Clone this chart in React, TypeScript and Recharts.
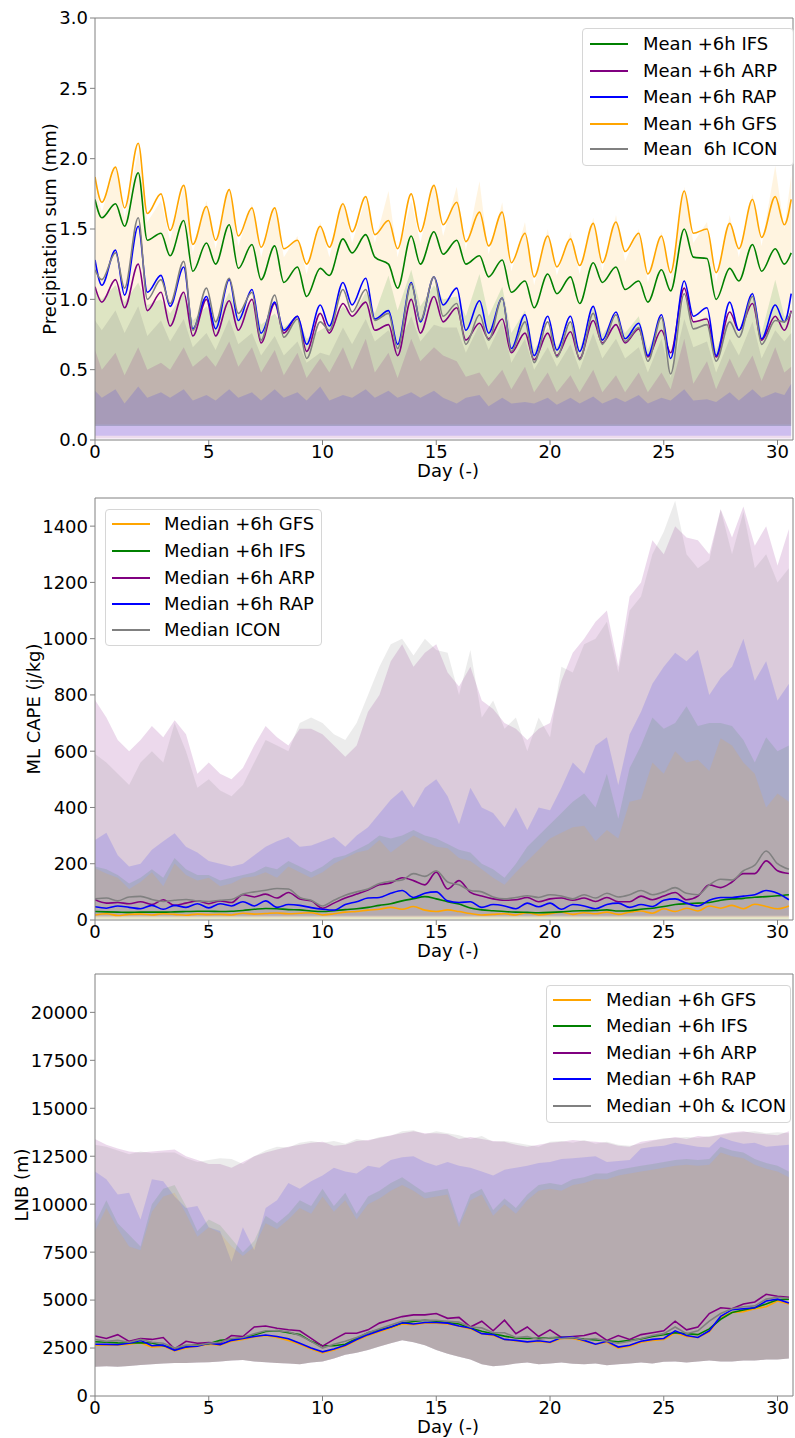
import { Area, ComposedChart, Line, ReferenceLine, XAxis, YAxis } from "recharts";

const AXIS_COLOR = "#808080";
const FONT = "'DejaVu Sans', Verdana, sans-serif";

const GFS = "#ffa500";
const IFS = "#008000";
const ARP = "#800080";
const RAP = "#0000ff";
const ICON = "#808080";

// ---------- panel 1: precipitation, sampled at daily troughs / peaks ----------
const precipDays = [
  0,
  0.3, 0.9, 1.3, 1.9, 2.3, 2.9, 3.3, 3.9, 4.3, 4.9,
  5.3, 5.9, 6.3, 6.9, 7.3, 7.9, 8.3, 8.9, 9.3, 9.9,
  10.3, 10.9, 11.3, 11.9, 12.3, 12.9, 13.3, 13.9, 14.3, 14.9,
  15.3, 15.9, 16.3, 16.9, 17.3, 17.9, 18.3, 18.9, 19.3, 19.9,
  20.3, 20.9, 21.3, 21.9, 22.3, 22.9, 23.3, 23.9, 24.3, 24.9,
  25.3, 25.9, 26.3, 26.9, 27.3, 27.9, 28.3, 28.9, 29.3, 29.9,
  30.3, 30.6,
];
const precipMeanGfs = [
  1.87,
  1.69, 1.94, 1.65, 2.11, 1.61, 1.75, 1.49, 1.81, 1.39, 1.66,
  1.42, 1.78, 1.45, 1.65, 1.37, 1.65, 1.36, 1.42, 1.25, 1.52,
  1.37, 1.68, 1.48, 1.73, 1.46, 1.56, 1.36, 1.75, 1.48, 1.81,
  1.53, 1.69, 1.41, 1.62, 1.38, 1.62, 1.26, 1.47, 1.16, 1.45,
  1.23, 1.43, 1.24, 1.54, 1.26, 1.55, 1.34, 1.47, 1.18, 1.45,
  1.19, 1.77, 1.47, 1.50, 1.19, 1.54, 1.36, 1.71, 1.44, 1.73,
  1.53, 1.71,
];
const precipMeanIfs = [
  1.71,
  1.58, 1.68, 1.52, 1.90, 1.42, 1.47, 1.31, 1.56, 1.20, 1.40,
  1.25, 1.53, 1.22, 1.39, 1.14, 1.38, 1.12, 1.23, 1.02, 1.22,
  1.17, 1.43, 1.33, 1.46, 1.30, 1.25, 1.08, 1.45, 1.25, 1.48,
  1.32, 1.42, 1.25, 1.31, 1.16, 1.28, 1.05, 1.13, 0.94, 1.18,
  1.04, 1.16, 0.97, 1.26, 1.12, 1.23, 1.07, 1.13, 0.98, 1.21,
  1.06, 1.50, 1.30, 1.29, 1.00, 1.22, 1.13, 1.39, 1.20, 1.36,
  1.25, 1.33,
];
const precipMeanArp = [
  1.09,
  0.98, 1.14, 0.94, 1.25, 0.92, 1.05, 0.81, 1.05, 0.74, 1.00,
  0.74, 0.99, 0.78, 1.00, 0.69, 0.97, 0.76, 0.88, 0.63, 0.90,
  0.76, 0.97, 0.88, 0.98, 0.78, 0.82, 0.60, 1.00, 0.76, 1.02,
  0.84, 0.94, 0.71, 0.83, 0.72, 0.86, 0.62, 0.76, 0.57, 0.76,
  0.60, 0.77, 0.58, 0.85, 0.69, 0.82, 0.69, 0.79, 0.59, 0.78,
  0.62, 1.08, 0.84, 0.86, 0.59, 0.91, 0.78, 0.97, 0.71, 0.88,
  0.78, 0.92,
];
const precipMeanRap = [
  1.28,
  1.10, 1.35, 1.03, 1.52, 1.05, 1.17, 0.95, 1.23, 0.79, 1.02,
  0.79, 1.14, 0.85, 1.07, 0.76, 0.98, 0.78, 0.88, 0.68, 0.96,
  0.81, 1.12, 0.96, 1.15, 0.86, 0.92, 0.68, 1.12, 0.84, 1.16,
  0.96, 1.08, 0.78, 0.99, 0.76, 1.01, 0.65, 0.89, 0.60, 0.88,
  0.64, 0.88, 0.63, 0.95, 0.71, 0.91, 0.72, 0.83, 0.60, 0.89,
  0.58, 1.13, 0.88, 0.94, 0.60, 0.98, 0.78, 1.04, 0.72, 0.96,
  0.84, 1.04,
];
const precipMeanIcon = [
  1.21,
  1.14, 1.33, 1.08, 1.58, 1.00, 1.14, 0.97, 1.27, 0.78, 1.08,
  0.84, 1.15, 0.90, 1.05, 0.71, 1.03, 0.73, 0.86, 0.58, 0.84,
  0.78, 1.07, 0.91, 1.07, 0.85, 0.90, 0.65, 1.11, 0.85, 1.16,
  0.88, 0.97, 0.68, 0.89, 0.71, 1.01, 0.63, 0.84, 0.55, 0.84,
  0.59, 0.84, 0.57, 0.90, 0.68, 0.89, 0.70, 0.80, 0.56, 0.87,
  0.47, 1.04, 0.79, 0.82, 0.56, 0.84, 0.73, 1.02, 0.68, 0.85,
  0.84, 0.91,
];
const precipHighGfs = [
  1.80,
  1.62, 1.95, 1.58, 2.05, 1.55, 1.70, 1.42, 1.80, 1.33, 1.70,
  1.36, 1.80, 1.38, 1.68, 1.30, 1.66, 1.30, 1.45, 1.18, 1.55,
  1.30, 1.70, 1.40, 1.72, 1.40, 1.77, 1.30, 1.70, 1.40, 1.82,
  1.45, 1.80, 1.35, 1.84, 1.32, 1.69, 1.20, 1.55, 1.10, 1.50,
  1.17, 1.48, 1.18, 1.58, 1.20, 1.60, 1.27, 1.50, 1.12, 1.48,
  1.13, 1.80, 1.40, 1.55, 1.12, 1.60, 1.30, 1.75, 1.38, 1.95,
  1.50, 1.88,
];
const precipHighIfs = [
  1.05,
  1.00, 1.10, 0.98, 1.12, 0.96, 1.00, 0.90, 1.05, 0.85, 0.95,
  0.85, 1.05, 0.88, 0.98, 0.82, 0.90, 0.80, 0.88, 0.72, 0.78,
  0.82, 0.95, 0.88, 1.05, 0.90, 1.17, 0.92, 1.21, 0.95, 1.10,
  1.00, 1.02, 0.88, 1.18, 0.88, 1.09, 0.76, 0.92, 0.64, 0.80,
  0.66, 0.83, 0.64, 0.95, 0.75, 0.88, 0.76, 0.88, 0.64, 0.86,
  0.58, 1.02, 0.83, 0.88, 0.64, 0.88, 0.76, 1.06, 0.76, 1.14,
  0.88, 0.88,
];
const precipHighIcon = [
  0.85,
  0.78, 0.92, 0.76, 0.95, 0.74, 0.85, 0.70, 0.86, 0.66, 0.76,
  0.64, 0.86, 0.68, 0.76, 0.60, 0.74, 0.60, 0.70, 0.55, 0.62,
  0.60, 0.80, 0.68, 0.86, 0.70, 0.78, 0.66, 0.88, 0.70, 0.82,
  0.80, 0.80, 0.62, 0.82, 0.64, 0.84, 0.55, 0.72, 0.50, 0.66,
  0.52, 0.68, 0.50, 0.76, 0.58, 0.72, 0.58, 0.66, 0.48, 0.72,
  0.44, 0.86, 0.66, 0.70, 0.48, 0.72, 0.60, 0.84, 0.58, 0.78,
  0.70, 0.76,
];
const precipHighArp = [
  0.64,
  0.50, 0.62, 0.46, 0.66, 0.50, 0.55, 0.50, 0.66, 0.52, 0.60,
  0.52, 0.70, 0.52, 0.66, 0.48, 0.64, 0.46, 0.62, 0.44, 0.58,
  0.48, 0.66, 0.50, 0.72, 0.48, 0.62, 0.44, 0.72, 0.56, 0.66,
  0.60, 0.56, 0.45, 0.48, 0.38, 0.50, 0.36, 0.52, 0.34, 0.48,
  0.34, 0.46, 0.34, 0.50, 0.34, 0.46, 0.34, 0.48, 0.34, 0.48,
  0.36, 0.72, 0.40, 0.56, 0.36, 0.58, 0.44, 0.60, 0.42, 0.66,
  0.48, 0.52,
];
const precipHighRap = [
  0.35,
  0.30, 0.36, 0.26, 0.38, 0.30, 0.34, 0.30, 0.36, 0.28, 0.32,
  0.28, 0.36, 0.30, 0.34, 0.28, 0.36, 0.30, 0.34, 0.28, 0.38,
  0.28, 0.32, 0.30, 0.36, 0.30, 0.35, 0.30, 0.34, 0.30, 0.35,
  0.30, 0.26, 0.30, 0.32, 0.24, 0.30, 0.26, 0.27, 0.26, 0.30,
  0.25, 0.30, 0.26, 0.31, 0.26, 0.30, 0.27, 0.32, 0.26, 0.30,
  0.28, 0.36, 0.28, 0.29, 0.27, 0.34, 0.28, 0.36, 0.30, 0.34,
  0.32, 0.40,
];
const precipLowGfs = 0.11;
const precipLowIfs = 0.1;
const precipLowIcon = 0.1;
const precipLowArp = 0.01;
const precipLowRap = 0.03;
const precipTicks = [0, 0.5, 1, 1.5, 2, 2.5, 3];

// ---------- panels 2 and 3: half-day samples ----------
const halfDays = [
  0, 0.5, 1, 1.5, 2, 2.5, 3, 3.5, 4, 4.5,
  5, 5.5, 6, 6.5, 7, 7.5, 8, 8.5, 9, 9.5,
  10, 10.5, 11, 11.5, 12, 12.5, 13, 13.5, 14, 14.5,
  15, 15.5, 16, 16.5, 17, 17.5, 18, 18.5, 19, 19.5,
  20, 20.5, 21, 21.5, 22, 22.5, 23, 23.5, 24, 24.5,
  25, 25.5, 26, 26.5, 27, 27.5, 28, 28.5, 29, 29.5,
  30, 30.5,
];

const capeMedGfs = [
  18, 22, 16, 20, 21, 18, 22, 20, 17, 21,
  19, 20, 18, 24, 21, 23, 25, 22, 24, 26,
  18, 22, 28, 30, 35, 38, 45, 38, 48, 35,
  30, 36, 30, 23, 18, 20, 22, 18, 26, 18,
  22, 28, 20, 26, 22, 28, 20, 28, 32, 24,
  40, 30, 42, 32, 50, 42, 52, 40, 56, 48,
  40, 50,
];
const capeMedIfs = [
  30, 29, 28, 27, 28, 28, 28, 29, 30, 31,
  31, 30, 31, 34, 38, 41, 40, 37, 36, 32,
  30, 33, 37, 40, 45, 52, 58, 68, 76, 83,
  75, 65, 57, 43, 36, 33, 30, 28, 27, 26,
  27, 29, 32, 33, 34, 36, 32, 33, 38, 42,
  48, 55, 58, 60, 62, 70, 75, 77, 81, 83,
  86, 90,
];
const capeMedArp = [
  72, 60, 62, 58, 65, 55, 72, 52, 60, 68,
  58, 68, 62, 90, 82, 92, 78, 98, 75, 68,
  42, 60, 78, 92, 107, 125, 132, 150, 140, 125,
  170, 110, 140, 98, 85, 75, 70, 72, 80, 65,
  75, 78, 70, 78, 66, 80, 65, 65, 85, 72,
  85, 98, 72, 85, 125, 115, 135, 165, 165, 210,
  175, 165,
];
const capeMedRap = [
  47, 42, 50, 45, 40, 52, 38, 52, 45, 58,
  43, 58, 50, 65, 50, 68, 45, 55, 52, 44,
  38, 35, 55, 65, 78, 80, 95, 105, 80, 95,
  100, 68, 62, 65, 45, 55, 50, 40, 60, 47,
  60, 38, 55, 50, 40, 55, 60, 45, 55, 48,
  70, 75, 60, 50, 70, 80, 80, 85, 90, 105,
  95, 72,
];
const capeMedIcon = [
  75, 78, 68, 82, 84, 73, 66, 70, 73, 68,
  66, 70, 73, 92, 100, 106, 112, 110, 80, 70,
  50, 70, 88, 100, 110, 130, 138, 142, 165, 155,
  175, 135, 125, 105, 100, 82, 75, 80, 86, 80,
  90, 85, 75, 90, 78, 95, 82, 90, 105, 90,
  100, 115, 95, 90, 125, 145, 142, 175, 195, 245,
  200, 180,
];
const capeHighArp = [
  782, 720, 640, 600, 640, 690, 650, 710, 660, 520,
  560, 520, 500, 540, 620, 690, 650, 620, 680, 680,
  660, 620, 580, 620, 740, 800, 920, 980, 900, 950,
  980, 880, 830, 900, 780, 750, 700, 680, 640, 680,
  700, 850, 950, 1000, 1060, 1100, 900, 1150, 1200, 1350,
  1300, 1400, 1360, 1350, 1300, 1460, 1360, 1470, 1330, 1400,
  1260, 1390,
];
const capeHighIcon = [
  590, 560, 520, 480, 560, 600, 560, 700, 600, 470,
  500, 460, 440, 480, 560, 640, 620, 600, 700, 720,
  700, 660, 640, 700, 800, 900, 980, 1000, 940, 1000,
  960, 950, 800, 960, 720, 780, 680, 720, 600, 720,
  650, 900, 880, 980, 1000, 1060, 880, 1100, 1150, 1300,
  1380, 1490, 1300, 1250, 1280, 1460, 1300, 1450, 1250, 1300,
  1200, 1250,
];
const capeHighRap = [
  284, 310, 230, 190, 200, 250, 280, 308, 260, 240,
  210, 200, 190, 200, 230, 260, 280, 295, 260, 265,
  280, 295, 260, 300, 330, 379, 427, 462, 400, 470,
  500, 440, 340, 470, 400, 380, 330, 400, 320, 400,
  390, 470, 560, 520, 620, 650, 480, 660, 740, 840,
  900, 950, 920, 960, 800, 860, 900, 1000, 850, 920,
  780, 840,
];
const capeHighIfs = [
  190, 180, 160, 130, 150, 180, 150, 220, 180, 160,
  160, 140, 150, 160, 170, 190, 180, 210, 190, 170,
  190, 220, 230, 250, 270, 300, 290, 300, 320, 300,
  290, 270, 250, 240, 200, 180, 150, 200, 260, 300,
  340, 380, 420, 450, 400, 520, 360, 540, 620, 720,
  680, 700, 760, 690, 700, 700, 690, 640, 560, 650,
  600, 620,
];
const capeHighGfs = [
  184, 165, 150, 110, 135, 170, 120, 201, 160, 140,
  150, 120, 130, 150, 155, 170, 150, 190, 170, 150,
  170, 200, 220, 240, 249, 284, 240, 270, 300, 280,
  260, 255, 220, 210, 180, 150, 125, 170, 210, 250,
  290, 310, 330, 335, 280, 320, 290, 420, 430, 560,
  520, 600, 560, 570, 530, 646, 620, 560, 520, 400,
  450, 420,
];
const capeLowArp = 10;
const capeLowIcon = 15;
const capeLowRap = 15;
const capeLowIfs = 3;
const capeLowGfs = 3;
const capeTicks = [0, 200, 400, 600, 800, 1000, 1200, 1400];

const lnbMedGfs = [
  2650, 2650, 2650, 2700, 2780, 2550, 2600, 2350, 2500, 2600,
  2700, 2650, 2850, 2950, 3080, 3150, 3050, 2900, 2700, 2450,
  2250, 2400, 2600, 2900, 3150, 3350, 3550, 3750, 3720, 3800,
  3800, 3750, 3650, 3500, 3250, 3150, 2950, 2870, 2800, 2850,
  2780, 3000, 3000, 2850, 2700, 2800, 2500, 2600, 2800, 2900,
  2950, 3300, 3100, 3050, 3350, 4100, 4350, 4400, 4550, 4650,
  4950, 4800,
];
const lnbMedIfs = [
  2830, 2800, 2770, 2760, 2780, 2760, 2620, 2500, 2560, 2680,
  2720, 2900, 2960, 3050, 3180, 3360, 3410, 3300, 3200, 2850,
  2620, 2620, 2700, 3000, 3300, 3450, 3600, 3800, 3880, 3950,
  3900, 3830, 3750, 3550, 3380, 3250, 3120, 3020, 3000, 3010,
  3030, 3060, 3040, 2970, 2920, 2880, 2820, 2900, 2980, 3100,
  3200, 3300, 3250, 3200, 3500, 4000, 4350, 4480, 4600, 4800,
  5020, 5050,
];
const lnbMedArp = [
  3130, 3000, 3200, 2850, 3000, 2950, 3050, 2450, 2850, 2750,
  2780, 2750, 3150, 3100, 3600, 3650, 3530, 3450, 3400, 3000,
  2600, 2950, 3270, 3270, 3450, 3800, 3970, 4140, 4230, 4230,
  4300, 4050, 4100, 3600, 3900, 3400, 3950, 3250, 3600, 3100,
  3450, 3050, 3100, 3150, 3300, 2900, 3150, 2950, 3200, 3300,
  3400, 3900, 3450, 3600, 4300, 4600, 4550, 4800, 4900, 5300,
  5200, 5150,
];
const lnbMedRap = [
  2700, 2690, 2670, 2750, 2900, 2620, 2650, 2380, 2560, 2600,
  2750, 2680, 2900, 3000, 3100, 3180, 3100, 2980, 2750, 2500,
  2300, 2450, 2650, 2950, 3200, 3400, 3600, 3820, 3750, 3830,
  3830, 3800, 3650, 3550, 3250, 3200, 2950, 2900, 2820, 2880,
  2800, 3050, 3070, 2900, 2700, 2850, 2550, 2650, 2850, 2950,
  3000, 3400, 3150, 3050, 3400, 4150, 4500, 4550, 4600, 4950,
  5050, 4850,
];
const lnbMedIcon = [
  2950, 2850, 2900, 2800, 2950, 2800, 2750, 2500, 2650, 2650,
  2750, 2800, 3000, 3050, 3250, 3400, 3400, 3350, 3150, 2850,
  2500, 2700, 2850, 3050, 3300, 3500, 3700, 3900, 3950, 3950,
  3950, 3900, 3850, 3600, 3550, 3300, 3300, 3050, 3100, 2950,
  3050, 3000, 3050, 2950, 3000, 2850, 2750, 2850, 3000, 3150,
  3250, 3600, 3250, 3400, 3900, 4300, 4550, 4650, 4700, 5050,
  5150, 5100,
];
const lnbHighArp = [
  13400, 13100, 12900, 12750, 12700, 12750, 12800, 12850, 12500, 12300,
  12100, 12100, 11900, 12200, 12500, 12700, 12850, 13000, 13100, 13200,
  13250, 13050, 13100, 13300, 13350, 13450, 13600, 13700, 13800, 13700,
  13700, 13650, 13400, 13500, 13400, 13300, 13250, 13100, 13000, 13100,
  13200, 13250, 13350, 13300, 13250, 13200, 13050, 13000, 13250, 13350,
  13400, 13500, 13400, 13550, 13500, 13650, 13750, 13800, 13700, 13650,
  13600, 13800,
];
const lnbHighIcon = [
  13100, 13000, 12800, 12600, 12750, 12650, 12700, 12700, 12400, 12200,
  12300, 12400, 12350, 12100, 12500, 12800, 13000, 12950, 13200, 13300,
  13200, 13300, 13150, 13400, 13300, 13500, 13550, 13800, 13850, 13650,
  13800, 13700, 13600, 13400, 13550, 13250, 13300, 13200, 13100, 13000,
  13250, 13300, 13200, 13350, 13150, 13250, 13100, 13050, 13150, 13300,
  13450, 13450, 13500, 13450, 13550, 13600, 13700, 13750, 13800, 13700,
  13750, 13700,
];
const lnbHighRap = [
  11700, 11300, 10500, 10600, 9200, 11300, 11200, 10400, 9800, 9900,
  8800, 8600, 7000, 8800, 7600, 9800, 10200, 11100, 10800, 11200,
  11500, 11900, 11700, 11600, 12000, 11900, 12300, 12450, 12500, 12200,
  12000, 12200, 12000, 11900, 11700, 11500, 11800, 11900, 12000, 12150,
  12200, 12350, 12400, 12450, 12500, 12200, 12250, 12300, 12900, 13000,
  13050, 13200, 13100, 13000, 12950, 13500, 13300, 13150, 13200, 13000,
  13050, 13100,
];
const lnbHighIfs = [
  9000, 10200, 9000, 8400, 7800, 10000, 10800, 11000, 9900, 8600,
  9200, 8900, 8200, 7500, 8100, 9400, 9000, 9500, 10200, 9900,
  10800, 9900, 10600, 9500, 10400, 10700, 11100, 11400, 11000, 10600,
  10700, 10800, 9000, 10500, 10800, 9700, 10300, 9800, 10500, 11000,
  11100, 11000, 11300, 11400, 11600, 11600, 11800, 11900, 12000, 12100,
  12200, 12300, 12350, 12300, 12350, 13000, 12800, 12700, 12350, 12150,
  12000, 11700,
];
const lnbHighGfs = [
  8600, 9800, 8700, 7800, 7600, 9600, 10400, 10600, 9500, 8300,
  8800, 8500, 7800, 7300, 7800, 9000, 8700, 9200, 9800, 9500,
  10400, 9600, 10200, 9200, 10000, 10300, 10700, 11000, 10700, 10300,
  10400, 10500, 8800, 10200, 10500, 9400, 10000, 9500, 10200, 10700,
  10800, 10700, 11000, 11100, 11300, 11300, 11500, 11600, 11700, 11800,
  11900, 12000, 12050, 12000, 12050, 12700, 12500, 12400, 12050, 11850,
  11700, 11400,
];
const lnbLow = [
  1530, 1550, 1530, 1560, 1620, 1650, 1700, 1720, 1720, 1750,
  1760, 1800, 1850, 1880, 1800, 1760, 1720, 1700, 1650, 1750,
  1800, 1950, 2150, 2250, 2400, 2580, 2750, 2900, 2800, 2650,
  2400, 2200, 2050, 1900, 1650, 1550, 1600, 1700, 1750, 1650,
  1700, 1750, 1680, 1650, 1700, 1600, 1650, 1700, 1750, 1700,
  1780, 1800, 1750, 1800, 1850, 1800, 1800, 1850, 1850, 1900,
  1900, 1950,
];
const lnbTicks = [0, 2500, 5000, 7500, 10000, 12500, 15000, 17500, 20000];

const dayTicks = [0, 5, 10, 15, 20, 25, 30];
const DAY_MAX = 30.68;

type Curve = "linear" | "monotone";

interface LineDef {
  key: string;
  label: string;
  color: string;
  values: number[];
}
interface BandDef {
  key: string;
  color: string;
  opacity: number;
  low: number | number[];
  high: number[];
}
interface LegendBox {
  left: number;
  top: number;
  width: number;
  height: number;
  rowY: number[];
  lineX: number;
  textX: number;
}
interface PanelProps {
  top: number;
  marginTop: number;
  days: number[];
  bands: BandDef[];
  lines: LineDef[];
  lineCurve: Curve;
  bandCurve: Curve;
  yMax: number;
  yTicks: number[];
  yFormat?: (v: number) => string;
  yLabel: string;
  yLabelX: number;
  legend: LegendBox;
}

const PLOT_H = 422;
const PLOT_LEFT = 95;
const PLOT_RIGHT = 793;
const WIDTH = 795;

function buildRows(days: number[], bands: BandDef[], lines: LineDef[]) {
  return days.map((day, i) => {
    const row: Record<string, number | number[]> = { day };
    bands.forEach((b) => {
      const lo = Array.isArray(b.low) ? b.low[i] : b.low;
      row[b.key] = [lo, b.high[i]];
    });
    lines.forEach((l) => {
      row[l.key] = l.values[i];
    });
    return row;
  });
}

function Panel(props: PanelProps) {
  const { top, marginTop, days, bands, lines, lineCurve, bandCurve, yMax, yTicks, yFormat, yLabel, yLabelX, legend } = props;
  const rows = buildRows(days, bands, lines);
  const height = marginTop + PLOT_H + 38;
  const plotBottom = top + marginTop + PLOT_H;
  return (
    <>
      <div style={{ position: "absolute", left: 0, top }}>
        <ComposedChart
          width={WIDTH}
          height={height}
          data={rows}
          margin={{ top: marginTop, right: WIDTH - PLOT_RIGHT, bottom: 8, left: 0 }}
        >
          <XAxis
            dataKey="day"
            type="number"
            domain={[0, DAY_MAX]}
            ticks={dayTicks}
            interval={0}
            height={30}
            allowDataOverflow
            tickSize={5}
            tickMargin={0}
            tick={{ fill: "#000", fontSize: 18, fontFamily: FONT }}
            axisLine={{ stroke: AXIS_COLOR }}
            tickLine={{ stroke: AXIS_COLOR }}
          />
          <YAxis
            type="number"
            domain={[0, yMax]}
            ticks={yTicks}
            interval={0}
            width={PLOT_LEFT}
            allowDataOverflow
            tickSize={5}
            tickFormatter={yFormat}
            tick={{ fill: "#000", fontSize: 18, fontFamily: FONT }}
            axisLine={{ stroke: AXIS_COLOR }}
            tickLine={{ stroke: AXIS_COLOR }}
          />
          {bands.map((b) => (
            <Area
              key={b.key}
              dataKey={b.key}
              type={bandCurve}
              stroke="none"
              fill={b.color}
              fillOpacity={b.opacity}
              dot={false}
              activeDot={false}
              isAnimationActive={false}
            />
          ))}
          {lines.map((l) => (
            <Line
              key={l.key}
              dataKey={l.key}
              type={lineCurve}
              stroke={l.color}
              strokeWidth={1.6}
              dot={false}
              activeDot={false}
              isAnimationActive={false}
            />
          ))}
          <ReferenceLine y={yMax} stroke={AXIS_COLOR} />
          <ReferenceLine x={DAY_MAX} stroke={AXIS_COLOR} />
        </ComposedChart>
      </div>
      <div
        style={{
          position: "absolute",
          left: yLabelX,
          top: top + marginTop + PLOT_H / 2,
          transform: "translate(-50%, -50%) rotate(-90deg)",
          fontSize: 18,
          lineHeight: "18px",
          whiteSpace: "nowrap",
        }}
      >
        {yLabel}
      </div>
      <div
        style={{
          position: "absolute",
          left: (PLOT_LEFT + PLOT_RIGHT) / 2 + 4,
          top: plotBottom + 30,
          transform: "translate(-50%, -50%)",
          fontSize: 18,
          lineHeight: "17px",
          whiteSpace: "nowrap",
        }}
      >
        Day (-)
      </div>
      <div
        style={{
          position: "absolute",
          left: legend.left,
          top: legend.top,
          width: legend.width,
          height: legend.height,
          border: "1px solid #d6d6d6",
          borderRadius: 4,
          background: "rgba(255,255,255,0.85)",
          boxSizing: "border-box",
        }}
      >
        {lines.map((l, i) => (
          <div key={l.key}>
            <div
              style={{
                position: "absolute",
                left: legend.lineX,
                top: legend.rowY[i] - 1,
                width: 38,
                height: 2,
                background: l.color,
              }}
            />
            <div
              style={{
                position: "absolute",
                left: legend.textX,
                top: legend.rowY[i],
                transform: "translateY(-50%)",
                fontSize: 18,
                whiteSpace: "pre",
                lineHeight: "20px",
              }}
            >
              {l.label}
            </div>
          </div>
        ))}
      </div>
    </>
  );
}

const precipLines: LineDef[] = [
  { key: "ifs", label: "Mean +6h IFS", color: IFS, values: precipMeanIfs },
  { key: "arp", label: "Mean +6h ARP", color: ARP, values: precipMeanArp },
  { key: "rap", label: "Mean +6h RAP", color: RAP, values: precipMeanRap },
  { key: "gfs", label: "Mean +6h GFS", color: GFS, values: precipMeanGfs },
  { key: "icon", label: "Mean  6h ICON", color: ICON, values: precipMeanIcon },
];
const precipBands: BandDef[] = [
  { key: "gfsBand", color: GFS, opacity: 0.12, low: precipLowGfs, high: precipHighGfs },
  { key: "ifsBand", color: IFS, opacity: 0.13, low: precipLowIfs, high: precipHighIfs },
  { key: "iconBand", color: ICON, opacity: 0.2, low: precipLowIcon, high: precipHighIcon },
  { key: "arpBand", color: ARP, opacity: 0.14, low: precipLowArp, high: precipHighArp },
  { key: "rapBand", color: RAP, opacity: 0.13, low: precipLowRap, high: precipHighRap },
];

const capeLines: LineDef[] = [
  { key: "gfs", label: "Median +6h GFS", color: GFS, values: capeMedGfs },
  { key: "ifs", label: "Median +6h IFS", color: IFS, values: capeMedIfs },
  { key: "arp", label: "Median +6h ARP", color: ARP, values: capeMedArp },
  { key: "rap", label: "Median +6h RAP", color: RAP, values: capeMedRap },
  { key: "icon", label: "Median ICON", color: ICON, values: capeMedIcon },
];
const capeBands: BandDef[] = [
  { key: "arpBand", color: ARP, opacity: 0.15, low: capeLowArp, high: capeHighArp },
  { key: "iconBand", color: ICON, opacity: 0.15, low: capeLowIcon, high: capeHighIcon },
  { key: "rapBand", color: RAP, opacity: 0.13, low: capeLowRap, high: capeHighRap },
  { key: "ifsBand", color: IFS, opacity: 0.1, low: capeLowIfs, high: capeHighIfs },
  { key: "gfsBand", color: GFS, opacity: 0.12, low: capeLowGfs, high: capeHighGfs },
];

const lnbLines: LineDef[] = [
  { key: "gfs", label: "Median +6h GFS", color: GFS, values: lnbMedGfs },
  { key: "ifs", label: "Median +6h IFS", color: IFS, values: lnbMedIfs },
  { key: "arp", label: "Median +6h ARP", color: ARP, values: lnbMedArp },
  { key: "rap", label: "Median +6h RAP", color: RAP, values: lnbMedRap },
  { key: "icon", label: "Median +0h & ICON", color: ICON, values: lnbMedIcon },
];
const lnbBands: BandDef[] = [
  { key: "arpBand", color: ARP, opacity: 0.15, low: lnbLow, high: lnbHighArp },
  { key: "iconBand", color: ICON, opacity: 0.15, low: lnbLow, high: lnbHighIcon },
  { key: "rapBand", color: RAP, opacity: 0.12, low: lnbLow, high: lnbHighRap },
  { key: "ifsBand", color: IFS, opacity: 0.1, low: lnbLow, high: lnbHighIfs },
  { key: "gfsBand", color: GFS, opacity: 0.12, low: lnbLow, high: lnbHighGfs },
];

export default function App() {
  return (
    <div
      style={{
        position: "absolute",
        left: 0,
        top: 0,
        width: WIDTH,
        height: 1438,
        background: "#fff",
        fontFamily: FONT,
        color: "#000",
      }}
    >
      <Panel
        top={0}
        marginTop={18}
        days={precipDays}
        bands={precipBands}
        lines={precipLines}
        lineCurve="monotone"
        bandCurve="linear"
        yMax={3}
        yTicks={precipTicks}
        yFormat={(v) => v.toFixed(1)}
        yLabel="Precipitation sum (mm)"
        yLabelX={50}
        legend={{ left: 582, top: 28, width: 212, height: 138, rowY: [15, 42, 68, 95, 120], lineX: 7, textX: 60 }}
      />
      <Panel
        top={478}
        marginTop={20}
        days={halfDays}
        bands={capeBands}
        lines={capeLines}
        lineCurve="monotone"
        bandCurve="linear"
        yMax={1500}
        yTicks={capeTicks}
        yLabel="ML CAPE (j/kg)"
        yLabelX={34}
        legend={{ left: 105, top: 509, width: 217, height: 137, rowY: [14, 41, 68, 94, 120], lineX: 6, textX: 58 }}
      />
      <Panel
        top={956}
        marginTop={18}
        days={halfDays}
        bands={lnbBands}
        lines={lnbLines}
        lineCurve="linear"
        bandCurve="linear"
        yMax={22000}
        yTicks={lnbTicks}
        yLabel="LNB (m)"
        yLabelX={22}
        legend={{ left: 546, top: 985, width: 245, height: 138, rowY: [14, 40, 67, 93, 120], lineX: 6, textX: 59 }}
      />
    </div>
  );
}
